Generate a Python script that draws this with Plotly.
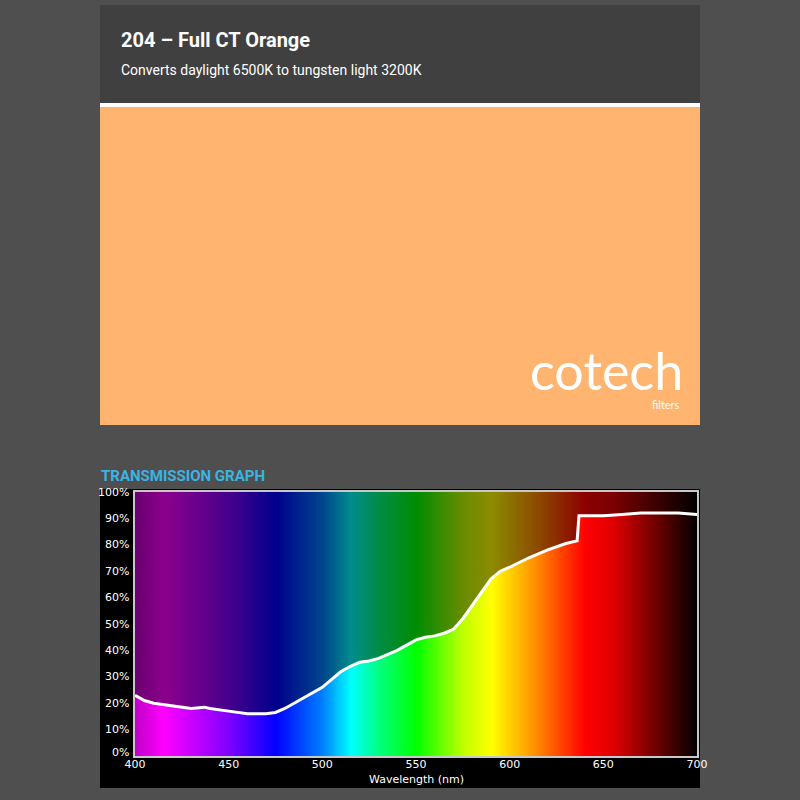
import plotly.graph_objects as go

# transmission curve
wl = [400, 405, 410, 420, 430, 437, 440, 450, 460, 470, 475, 480, 490, 500, 505, 510, 515, 520,
      525, 530, 535, 540, 545, 550, 555, 560, 565, 570, 575, 580, 585, 590, 595, 600, 610, 620,
      630, 636, 637, 650, 660, 670, 680, 690, 700]
trans = [23, 21, 20, 19, 18, 18.5, 18, 17, 16, 16, 16.5, 18, 22, 26, 29, 32, 34, 35.5,
         36, 37, 38.5, 40, 42, 44, 45, 45.5, 46.5, 48, 52, 57, 62, 67, 70, 71.5, 75, 78,
         80.5, 81.5, 91, 91, 91.5, 92, 92, 92, 91.5]

# spectrum background colours
spec_wl = [400, 415, 450, 475, 500, 515, 530, 550, 575, 590, 610, 625, 640, 655, 700]
spec_col = ["#c000c8", "#ff00ff", "#7f00ff", "#0000ff", "#0080ff", "#00ffff", "#00ff80",
            "#00ff00", "#c0ff00", "#ffff00", "#ffa000", "#ff5000", "#ff0000", "#e00000", "#000000"]

x_ticks = [400, 450, 500, 550, 600, 650, 700]
y_ticks = [0, 10, 20, 30, 40, 50, 60, 70, 80, 90, 100]

bg_x = list(range(400, 701))
colorscale = [[(w - 400) / 300, c] for w, c in zip(spec_wl, spec_col)]

fig = go.Figure()
fig.add_trace(go.Heatmap(x=bg_x, y=[0, 100], z=[bg_x, bg_x], colorscale=colorscale,
                         showscale=False, zsmooth="best", hoverinfo="skip"))
# darken the region above the curve
fig.add_trace(go.Scatter(x=wl, y=trans, mode="lines", line=dict(width=0), showlegend=False,
                         hoverinfo="skip"))
fig.add_trace(go.Scatter(x=wl, y=[100] * len(wl), mode="lines", line=dict(width=0),
                         fill="tonexty", fillcolor="rgba(0,0,0,0.45)", showlegend=False,
                         hoverinfo="skip"))
fig.add_trace(go.Scatter(x=wl, y=trans, mode="lines", line=dict(color="white", width=3),
                         showlegend=False))

shapes = [
    dict(type="rect", xref="paper", yref="paper", x0=100/800, x1=700/800, y0=1-103/800, y1=1-5/800,
         fillcolor="#404040", line_width=0, layer="below"),
    dict(type="rect", xref="paper", yref="paper", x0=100/800, x1=700/800, y0=1-107/800, y1=1-103/800,
         fillcolor="white", line_width=0, layer="below"),
    dict(type="rect", xref="paper", yref="paper", x0=100/800, x1=700/800, y0=1-425/800, y1=1-107/800,
         fillcolor="#ffb470", line_width=0, layer="below"),
    dict(type="rect", xref="paper", yref="paper", x0=100/800, x1=700/800, y0=1-788/800, y1=1-489/800,
         fillcolor="black", line_width=0, layer="below"),
    dict(type="rect", xref="paper", yref="paper", x0=133/800, x1=699/800, y0=1-758/800, y1=1-490/800,
         fillcolor="#c8c8c8", line_width=0, layer="below"),
]

annotations = [
    dict(text="<b>204 – Full CT Orange</b>", x=119/800, y=1-40/800, xanchor="left", yanchor="middle",
         font=dict(size=20, color="white", family="Roboto")),
    dict(text="Converts daylight 6500K to tungsten light 3200K", x=119/800, y=1-70/800, xanchor="left",
         yanchor="middle", font=dict(size=14, color="white", family="Roboto")),
    dict(text="cotech", x=685/800, y=1-370/800, xanchor="right", yanchor="middle",
         font=dict(size=52, color="white", family="Lato")),
    dict(text="filters", x=682/800, y=1-404/800, xanchor="right", yanchor="middle",
         font=dict(size=11, color="white", family="Lato")),
    dict(text="<b>TRANSMISSION GRAPH</b>", x=99/800, y=1-476/800, xanchor="left", yanchor="middle",
         font=dict(size=15, color="#3ab4e4", family="Roboto")),
    dict(text="Wavelength (nm)", x=416/800, y=1-779/800, xanchor="center", yanchor="middle",
         font=dict(size=11, color="white", family="DejaVu Sans")),
]
for t in y_ticks:
    annotations.append(dict(text=f"{t}%", x=131/800, y=1-(756 - 2.64 * t)/800 + (3/800 if t == 0 else 0),
                            xanchor="right", yanchor="middle", showarrow=False,
                            font=dict(size=11, color="white", family="DejaVu Sans")))

for a in annotations:
    a.update(xref="paper", yref="paper", showarrow=False)

fig.update_layout(
    width=800, height=800, margin=dict(l=0, r=0, t=0, b=0, pad=0), autosize=False,
    paper_bgcolor="#4f4f4f", plot_bgcolor="black",
    shapes=shapes, annotations=annotations,
    xaxis=dict(domain=[135/800, 697/800], range=[400, 700], tickvals=x_ticks, automargin=False,
               showgrid=True, gridcolor="rgba(128,128,128,0.9)", gridwidth=1, zeroline=False,
               tickfont=dict(size=11, color="white", family="DejaVu Sans"), ticks="", ticklen=0),
    yaxis=dict(domain=[1-756/800, 1-492/800], range=[0, 100], tickvals=y_ticks, showticklabels=False,
               automargin=False,
               showgrid=True, gridcolor="rgba(128,128,128,0.9)", gridwidth=1, zeroline=False),
)

fig.write_html("out.html", config=dict(displayModeBar=False),
               post_script="document.body.style.margin='0';document.body.style.background='#4f4f4f';")
